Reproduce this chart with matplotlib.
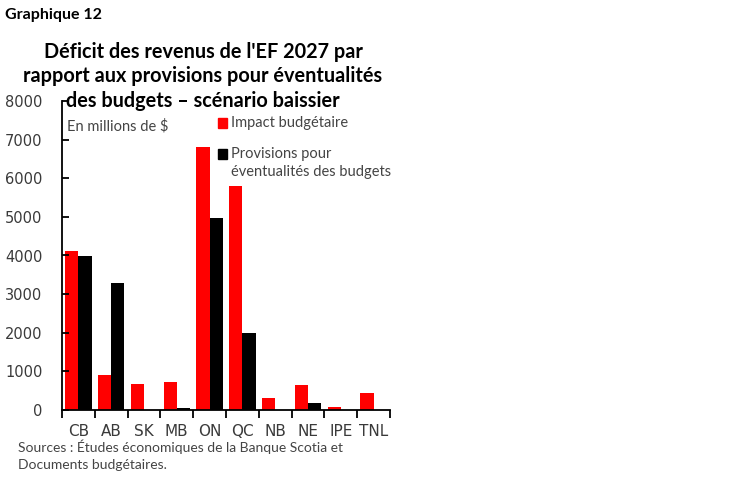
import matplotlib
matplotlib.use('Agg')
import matplotlib.pyplot as plt
import numpy as np
from matplotlib.patches import Rectangle

plt.rcParams['font.family'] = ['Lato', 'DejaVu Sans']

provinces = ['CB', 'AB', 'SK', 'MB', 'ON', 'QC', 'NB', 'NE', 'IPE', 'TNL']
impact = [4110, 900, 665, 730, 6800, 5800, 320, 650, 90, 430]
provisions = [3990, 3285, 0, 40, 4980, 1990, 0, 190, 0, 0]

title_lines = ["Déficit des revenus de l'EF 2027 par",
               "rapport aux provisions pour éventualités",
               "des budgets – scénario baissier"]

fig = plt.figure(figsize=(7.49, 4.82), dpi=100)
ax = fig.add_axes([62/749, 72/482, 328/749, 309/482])

x = np.arange(len(provinces))
ax.bar(x - 0.2, impact, width=0.4, color='#ff0000')
ax.bar(x + 0.2, provisions, width=0.4, color='#000000')

ax.set_xlim(-0.5, len(provinces) - 0.5)
ax.set_ylim(0, 8000)
ax.set_yticks(range(0, 8001, 1000))
ax.set_xticks(x)
ax.set_xticklabels(provinces)
ax.set_xticks(np.arange(-0.5, len(provinces), 1), minor=True)
ax.tick_params(axis='x', which='major', length=0, pad=10, labelsize=11, labelcolor='#3a3a3a')
ax.tick_params(axis='x', which='minor', length=6, width=1.3, direction='out')
ax.tick_params(axis='y', length=5, width=1.3, direction='in', labelsize=10.5,
               labelcolor='#3a3a3a', pad=14)
for lab in ax.get_xticklabels() + ax.get_yticklabels():
    lab.set_fontfamily('DejaVu Sans')

for s in ['top', 'right']:
    ax.spines[s].set_visible(False)
for s in ['left', 'bottom']:
    ax.spines[s].set_linewidth(1.3)

fig.text(5/749, 1 - 15/482, 'Graphique 12', fontsize=11.5, fontweight='bold',
         ha='left', va='center')
for i, line in enumerate(title_lines):
    fig.text(203/749, 1 - (52 + 24.5 * i)/482, line, fontsize=14.3,
             fontweight='bold', ha='center', va='center')

fig.text(67/749, 1 - 126/482, 'En millions de $', fontsize=10.5, color='#444444',
         ha='left', va='center')

fig.patches.append(Rectangle((218/749, 1 - 128/482), 9/749, 10/482,
                             transform=fig.transFigure, color='#ff0000'))
fig.text(231/749, 1 - 123/482, 'Impact budgétaire', fontsize=10.5, color='#444444',
         ha='left', va='center')
fig.patches.append(Rectangle((218/749, 1 - 159/482), 9/749, 10/482,
                             transform=fig.transFigure, color='#000000'))
fig.text(231/749, 1 - 163/482, 'Provisions pour\néventualités des budgets',
         fontsize=10.5, color='#444444', ha='left', va='center', linespacing=1.45)

fig.text(18/749, 1 - 455/482,
         'Sources : Études économiques de la Banque Scotia et\nDocuments budgétaires.',
         fontsize=10, color='#444444', ha='left', va='center', linespacing=1.5)

fig.savefig('out.png', dpi=100)
